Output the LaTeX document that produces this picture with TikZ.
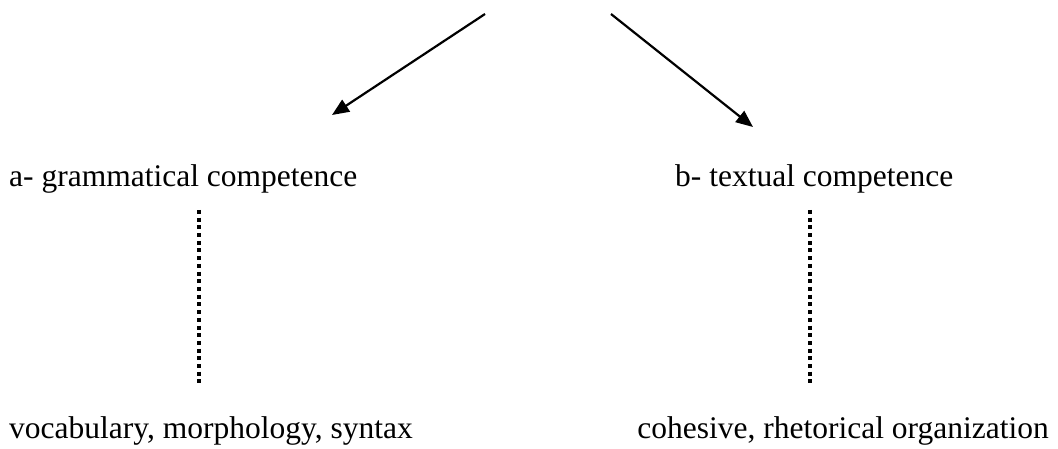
\documentclass[tikz,border=0pt]{standalone}
\usepackage{fontspec}
\setmainfont{Liberation Serif}
\usetikzlibrary{arrows.meta}
\begin{document}
\begin{tikzpicture}[x=1pt,y=-1pt,
  lbl/.style={anchor=base west,inner sep=0pt,font=\fontsize{31.5}{37}\selectfont},
  arr/.style={line width=2.2pt,-{Triangle[length=17pt,width=14pt]}},
  dots/.style={line width=3.5pt,dash pattern=on 4pt off 3.7pt}]
\useasboundingbox (0,0) rectangle (1058,449);
\node[lbl] (a) at (9,187) {a- grammatical competence};
\node[lbl] (b) at (675,187) {b- textual competence};
\node[lbl] (c) at (9,438) {vocabulary, morphology, syntax};
\node[lbl,anchor=base east] (d) at (1049,438) {cohesive, rhetorical organization};
\coordinate (s1) at (485,14);
\coordinate (e1) at (332,115);
\coordinate (s2) at (611,14);
\coordinate (e2) at (753,127);
\draw[arr] (s1) -- (e1);
\draw[arr] (s2) -- (e2);
\coordinate (la) at (199,210);
\coordinate (lb) at (199,385);
\coordinate (ra) at (810,210);
\coordinate (rb) at (810,385);
\draw[dots] (la) -- (lb);
\draw[dots] (ra) -- (rb);
\end{tikzpicture}
\end{document}
